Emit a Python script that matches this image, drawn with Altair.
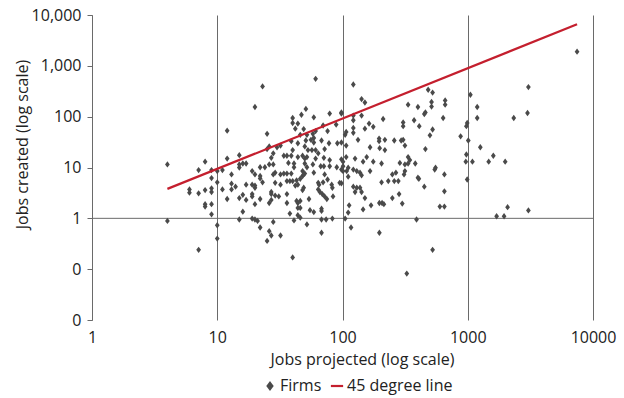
import altair as alt
import pandas as pd

# Jobs projected (x) and jobs created (y) for each firm
jobs_projected = [
    4.0, 4.0, 6.0, 6.0, 7.1, 7.1, 7.1, 8.0, 8.0, 8.0, 8.0, 9.0, 9.0, 9.0, 9.0, 9.0, 9.0,
    10, 10, 10, 10, 11, 11, 12, 12, 12, 13, 13, 13, 14, 15, 15, 15, 15, 16, 16, 16, 17, 17, 17, 15,
    61, 23, 20, 25, 51, 47, 40, 40, 44, 42, 59, 79, 98, 49, 70, 76, 89, 61, 58, 52, 46, 59, 56, 59,
    51, 44, 39, 68, 78, 91, 98, 32, 30, 28, 25, 40, 50, 53, 57, 61, 64, 72, 34, 36, 39, 44, 48, 50,
    52, 27, 61, 71, 79, 98, 22, 24, 26, 28, 37, 41, 41, 50, 52, 58, 67, 71, 79, 90, 98, 19, 29, 48,
    34, 36, 39, 26,
    20, 22, 22, 28, 32, 29, 32, 36, 38, 40, 43, 46, 48, 49, 50, 59, 72, 76, 70, 64, 65, 82, 83, 98,
    19, 20, 20, 42, 44, 49, 48, 19, 19, 22, 27, 27, 29, 31, 27, 26, 36, 36, 43, 44, 46, 54, 64, 66,
    69, 72, 75, 84, 20, 44, 46, 55, 59, 68, 68, 38, 44, 46, 19, 20, 21, 28, 41, 68, 74, 83, 52, 22,
    26, 27, 32, 25, 68, 40, 23,
    122, 142, 151, 98, 122, 122, 142, 211, 163, 176, 151, 122, 122, 107, 105, 133, 107, 166, 196,
    196, 218, 198, 218, 259, 294, 305, 315, 334, 400, 459, 450, 483, 524, 514, 514, 660, 660, 305,
    305, 373, 410, 636, 524, 499, 459, 107, 126, 156, 146, 176, 101, 101, 334, 345, 334, 315, 381,
    205, 287, 553, 545, 111, 122, 130, 138, 166, 315,
    95, 101, 108, 142, 111, 122, 126, 130, 138, 142, 151, 169, 113, 111, 146, 105, 117, 197, 205,
    232, 259, 279, 250, 267, 310, 400, 407, 450, 651, 651, 283, 250, 197, 207, 214, 300, 599, 651,
    390, 524, 326,
    1050, 1190, 1190, 990, 975, 877, 1010, 1260, 975, 965, 1090, 1470, 1600, 1990, 2330, 3050, 3000,
    7460, 990, 1700, 1950, 2080, 3050,
]
jobs_created = [
    11.5, 0.89, 3.7, 3.2, 8.9, 3.1, 0.24, 13, 3.6, 1.9, 1.7, 8.9, 6.2, 3.9, 3.3, 1.9, 1.2,
    8.5, 5.1, 0.73, 0.40, 8.9, 3.7, 53, 15, 2.4, 7.3, 4.8, 3.7, 4.2, 17.5, 11.5, 2.5, 0.95, 12, 2.9, 1.35, 12, 4.6, 2.3, 10,
    556, 393, 155, 46, 142, 109, 94, 75, 73, 58, 97, 115, 115, 57, 67, 52, 70, 52, 46, 44, 44, 38, 35, 31,
    34, 30, 33, 34, 30, 30, 31, 27, 25, 19, 23, 22, 26, 22, 22, 22, 19, 23, 17, 17, 17, 16, 17, 15,
    16, 15.5, 15, 15.5, 14, 14.5, 10.1, 10.1, 11.5, 11.5, 12.3, 12, 10.1, 12, 10.1, 11.5, 10.6, 10.6, 10.6, 10.1, 9.1, 8.5, 7.9, 8.5,
    7.6, 7.6, 7.6, 26,
    7.3, 6.8, 6.1, 7.3, 7.3, 5.0, 4.6, 5.4, 5.4, 5.4, 5.6, 6.0, 6.8, 7.3, 7.6, 7.9, 7.3, 5.8, 5.1, 5.0, 4.6, 4.6, 4.0, 4.9,
    4.6, 4.4, 4.0, 4.4, 4.6, 4.0, 3.6, 3.0, 2.7, 2.4, 3.3, 3.0, 2.8, 2.7, 2.3, 2.0, 3.0, 2.0, 2.2, 2.0, 2.2, 2.4, 3.7, 3.3,
    3.0, 2.7, 2.4, 2.7, 1.9, 1.6, 1.6, 1.45, 1.33, 1.55, 1.4, 1.24, 1.15, 1.03, 0.99, 0.95, 0.89, 0.85, 0.91, 0.95, 0.95, 0.99, 0.76, 0.66,
    0.56, 0.46, 0.46, 0.36, 0.52, 0.17, 5.1,
    430, 222, 190, 121, 105, 85, 105, 90, 73, 63, 58, 60, 48, 50, 44, 35, 27, 25, 37,
    33, 35, 24, 22, 34, 34, 35, 27, 172, 155, 121, 113, 338, 298, 194, 158, 209, 172, 77,
    65, 85, 65, 94, 56, 43, 23, 16, 15, 16, 13, 13, 13, 10.6, 16, 14, 12, 11.5, 12,
    12, 12.3, 9.9, 9.1, 9.9, 9.1, 8.5, 7.9, 8.5, 8.5,
    5.0, 8.5, 8.5, 7.0, 6.6, 4.2, 3.3, 4.0, 4.0, 3.3, 2.5, 1.8, 1.8, 1.3, 1.5, 0.99, 0.66, 0.52, 5.1,
    5.4, 5.4, 5.4, 7.3, 7.9, 7.3, 6.3, 6.0, 4.2, 7.3, 3.4, 3.0, 2.5, 2.0, 2.0, 1.9, 1.95, 1.7, 1.7,
    0.95, 0.24, 0.082,
    270, 155, 94, 75, 65, 41, 34, 25, 18, 13, 13, 13, 17, 13, 94, 382, 118,
    1900, 5.8, 1.1, 1.1, 1.66, 1.43,
]

# 45 degree reference line end points
line_x = [4.0, 7460]
line_y = [3.8, 6570]

series_names = ["Firms", "45 degree line"]
series_colors = ["#4a4a4a", "#c41f2e"]
series_shapes = ["M0,-1L0.75,0L0,1L-0.75,0Z", "stroke"]
series_sizes = [40, 150]

x_ticks = [1, 10, 100, 1000, 10000]
y_ticks = [0.01, 0.1, 1, 10, 100, 1000, 10000]

firms = pd.DataFrame({"x": jobs_projected, "y": jobs_created, "series": "Firms"})
line_df = pd.DataFrame({"x": line_x, "y": line_y, "series": "45 degree line"})
one_df = pd.DataFrame({"y": [1]})

FONT = "Open Sans"
GRID = "#6a6a6a"
TEXT = "#222222"
FS = 16

x_scale = alt.Scale(type="log", domain=[1, 10000], nice=False)
y_scale = alt.Scale(type="log", domain=[0.01, 10000], nice=False)

x_enc = alt.X(
    "x:Q",
    scale=x_scale,
    axis=alt.Axis(
        values=x_ticks, format="d", title="Jobs projected (log scale)",
        domain=False, ticks=False, grid=True, gridColor=GRID, gridWidth=1, gridOpacity=1,
        labelPadding=9, labelFontSize=FS, labelColor=TEXT, labelFont=FONT,
        titleFontSize=FS, titleFont=FONT, titleFontWeight="normal", titleColor=TEXT,
        titleX=270, titleY=39, titleBaseline="middle", titleAlign="center", labelFlush=False,
    ),
)
y_enc = alt.Y(
    "y:Q",
    scale=y_scale,
    axis=alt.Axis(
        values=y_ticks, format=",.0f", title="Jobs created (log scale)",
        domain=True, domainColor=GRID, ticks=True, tickColor=GRID, tickSize=5, grid=False,
        labelPadding=6, labelFontSize=FS, labelColor=TEXT, labelFont=FONT,
        titleFontSize=FS, titleFont=FONT, titleFontWeight="normal", titleColor=TEXT,
        titleX=-70, titleY=129, titleAngle=-90, titleAlign="center", titleBaseline="middle",
        labelFlush=False,
    ),
)

fill_scale = alt.Scale(domain=series_names, range=series_colors)
stroke_scale = alt.Scale(domain=series_names, range=series_colors)
shape_scale = alt.Scale(domain=series_names, range=series_shapes)
size_scale = alt.Scale(domain=series_names, range=series_sizes)
legend = alt.Legend(
    title=None, orient="none", direction="horizontal", legendX=170, legendY=363,
    labelFontSize=FS, labelFont=FONT, labelColor=TEXT, symbolStrokeWidth=2.2,
    columnPadding=4, labelOffset=2,
)

points = alt.Chart(firms).mark_point(filled=True, opacity=1, size=34, strokeWidth=0).encode(
    x=x_enc,
    y=y_enc,
    fill=alt.Fill("series:N", scale=fill_scale, legend=legend),
    stroke=alt.Stroke("series:N", scale=stroke_scale, legend=legend),
    shape=alt.Shape("series:N", scale=shape_scale, legend=legend),
    size=alt.Size("series:N", scale=size_scale, legend=legend),
)

one_rule = alt.Chart(one_df).mark_rule(color=GRID, strokeWidth=1).encode(y=alt.Y("y:Q", scale=y_scale))

line = alt.Chart(line_df).mark_line(strokeWidth=2.2).encode(
    x=alt.X("x:Q", scale=x_scale),
    y=alt.Y("y:Q", scale=y_scale),
    stroke=alt.Stroke("series:N", scale=stroke_scale, legend=legend),
)

chart = alt.layer(one_rule, points, line).properties(
    width=501, height=305,
    autosize=alt.AutoSizeParams(type="none"),
    padding={"left": 92, "top": 15, "right": 31, "bottom": 78},
    background="white",
).configure_view(stroke=None)

chart.save("out.html", embed_options={"renderer": "svg", "actions": False})
